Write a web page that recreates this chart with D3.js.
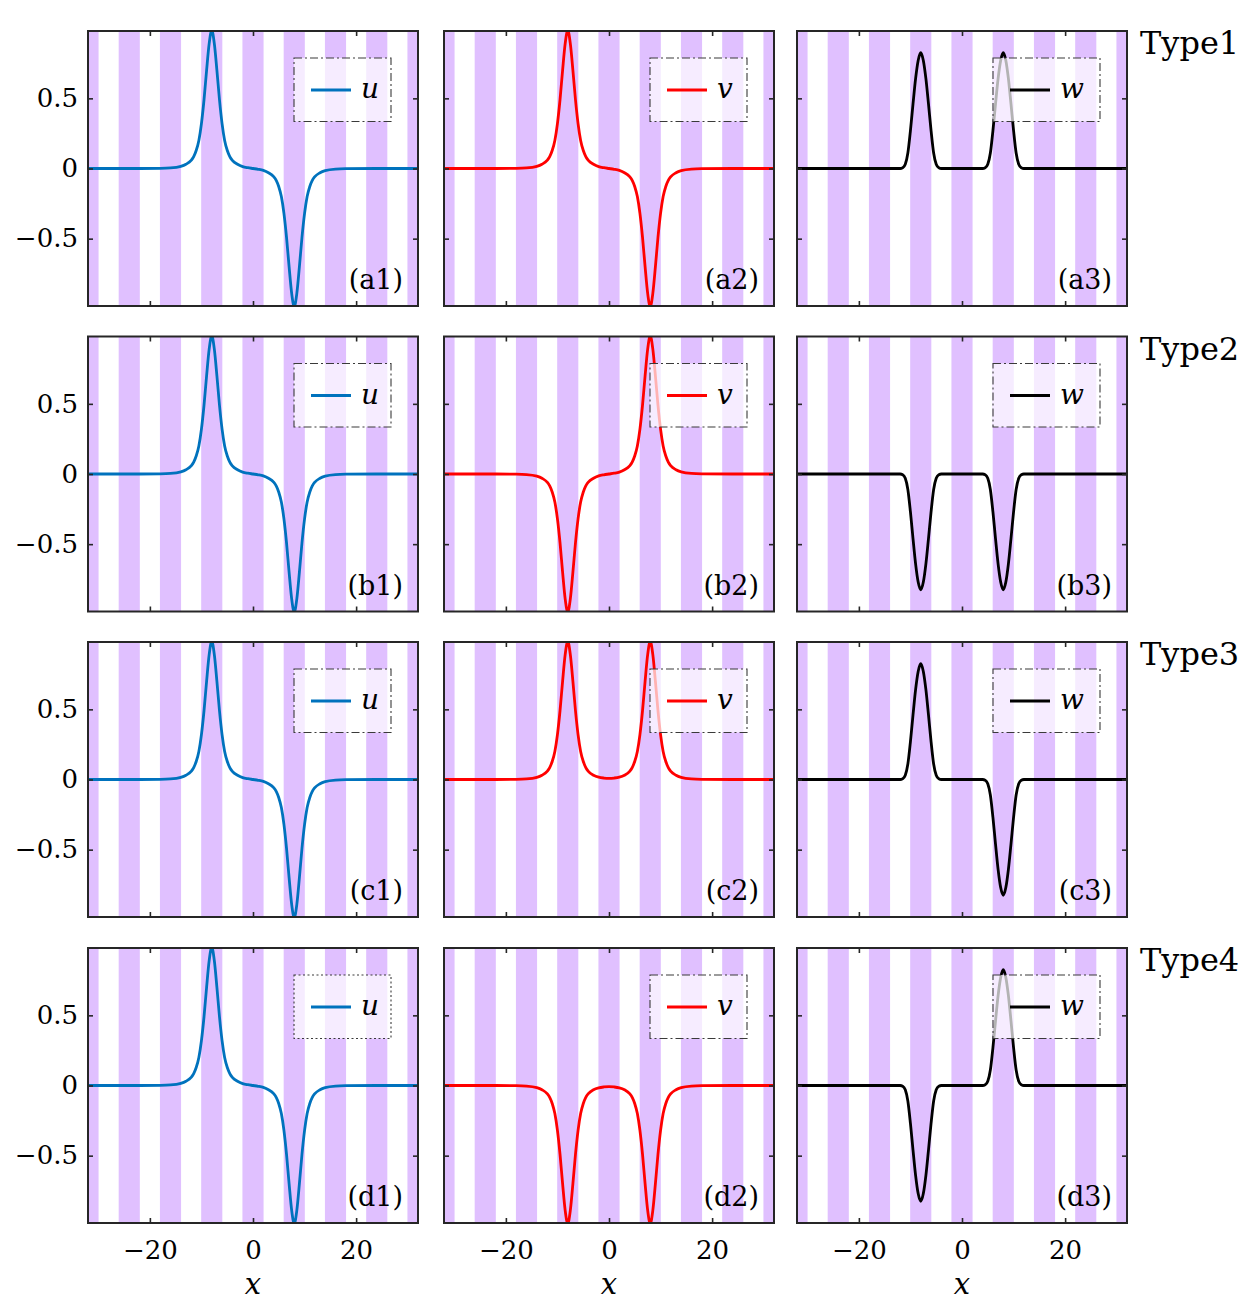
<!DOCTYPE html>
<meta charset="utf-8" />
<script src="https://d3js.org/d3.v7.min.js"></script>
<div id="my_dataviz"></div>
<script>
  // axis limits and ticks
  const xLimits = [-32, 32];
  const yLimits = [-0.98, 0.98];
  const xTicks = [-20, 0, 20];
  const yTicks = [-0.5, 0, 0.5];

  // lattice stripes (centres and width, in x units)
  const stripeCenters = [-32, -24, -16, -8, 0, 8, 16, 24, 32];
  const stripeWidth = 4.1;

  // sample positions shared by all curves
  const xs = [-32, -24, -18, -16, -14, -13, -12, -11.5, -11, -10.5, -10, -9.5, -9, -8.5, -8,
    -7.5, -7, -6.5, -6, -5.5, -5, -4.5, -4, -3, -2, -1, 0, 1, 2, 3, 4, 4.5, 5, 5.5, 6, 6.5,
    7, 7.5, 8, 8.5, 9, 9.5, 10, 10.5, 11, 11.5, 12, 13, 14, 16, 18, 24, 32];

  // u (and v of Type1): hump at -8, dip at +8
  const uPT = [0, 0, 0.0015, 0.004, 0.015, 0.03, 0.058, 0.085, 0.13, 0.2, 0.32, 0.49, 0.7, 0.89, 0.985,
    0.89, 0.7, 0.49, 0.32, 0.2, 0.13, 0.085, 0.058, 0.03, 0.0135, 0.0055, 0, -0.0055, -0.0135, -0.03,
    -0.058, -0.085, -0.13, -0.2, -0.32, -0.49, -0.7, -0.89, -0.985, -0.89, -0.7, -0.49, -0.32, -0.2,
    -0.13, -0.085, -0.058, -0.03, -0.015, -0.004, -0.0015, 0, 0];
  // v of Type2: dip at -8, hump at +8
  const vTP = [0, 0, -0.0015, -0.004, -0.015, -0.03, -0.058, -0.085, -0.13, -0.2, -0.32, -0.49, -0.7, -0.89, -0.985,
    -0.89, -0.7, -0.49, -0.32, -0.2, -0.13, -0.085, -0.058, -0.03, -0.0135, -0.0055, 0, 0.0055, 0.0135, 0.03,
    0.058, 0.085, 0.13, 0.2, 0.32, 0.49, 0.7, 0.89, 0.985, 0.89, 0.7, 0.49, 0.32, 0.2,
    0.13, 0.085, 0.058, 0.03, 0.015, 0.004, 0.0015, 0, 0];
  // v of Type3: two humps
  const vPP = [0, 0, 0.0015, 0.004, 0.015, 0.03, 0.058, 0.085, 0.13, 0.2, 0.32, 0.49, 0.7, 0.89, 0.985,
    0.89, 0.7, 0.49, 0.32, 0.2, 0.13, 0.085, 0.058, 0.03, 0.0165, 0.0105, 0.008, 0.0105, 0.0165, 0.03,
    0.058, 0.085, 0.13, 0.2, 0.32, 0.49, 0.7, 0.89, 0.985, 0.89, 0.7, 0.49, 0.32, 0.2,
    0.13, 0.085, 0.058, 0.03, 0.015, 0.004, 0.0015, 0, 0];
  // v of Type4: two dips
  const vTT = [0, 0, -0.0015, -0.004, -0.015, -0.03, -0.058, -0.085, -0.13, -0.2, -0.32, -0.49, -0.7, -0.89, -0.985,
    -0.89, -0.7, -0.49, -0.32, -0.2, -0.13, -0.085, -0.058, -0.03, -0.0165, -0.0105, -0.008, -0.0105, -0.0165, -0.03,
    -0.058, -0.085, -0.13, -0.2, -0.32, -0.49, -0.7, -0.89, -0.985, -0.89, -0.7, -0.49, -0.32, -0.2,
    -0.13, -0.085, -0.058, -0.03, -0.015, -0.004, -0.0015, 0, 0];

  // w curves (narrower, height ~0.825)
  const wPP = [0, 0, 0, 0, 0, 0, 0, 0.005, 0.03, 0.11, 0.27, 0.46, 0.64, 0.77, 0.825,
    0.77, 0.64, 0.46, 0.27, 0.11, 0.03, 0.005, 0, 0, 0, 0, 0, 0, 0, 0,
    0, 0.005, 0.03, 0.11, 0.27, 0.46, 0.64, 0.77, 0.825, 0.77, 0.64, 0.46, 0.27, 0.11,
    0.03, 0.005, 0, 0, 0, 0, 0, 0, 0];
  const wTT = [0, 0, 0, 0, 0, 0, 0, -0.005, -0.03, -0.11, -0.27, -0.46, -0.64, -0.77, -0.825,
    -0.77, -0.64, -0.46, -0.27, -0.11, -0.03, -0.005, 0, 0, 0, 0, 0, 0, 0, 0,
    0, -0.005, -0.03, -0.11, -0.27, -0.46, -0.64, -0.77, -0.825, -0.77, -0.64, -0.46, -0.27, -0.11,
    -0.03, -0.005, 0, 0, 0, 0, 0, 0, 0];
  const wPT = [0, 0, 0, 0, 0, 0, 0, 0.005, 0.03, 0.11, 0.27, 0.46, 0.64, 0.77, 0.825,
    0.77, 0.64, 0.46, 0.27, 0.11, 0.03, 0.005, 0, 0, 0, 0, 0, 0, 0, 0,
    0, -0.005, -0.03, -0.11, -0.27, -0.46, -0.64, -0.77, -0.825, -0.77, -0.64, -0.46, -0.27, -0.11,
    -0.03, -0.005, 0, 0, 0, 0, 0, 0, 0];
  const wTP = [0, 0, 0, 0, 0, 0, 0, -0.005, -0.03, -0.11, -0.27, -0.46, -0.64, -0.77, -0.825,
    -0.77, -0.64, -0.46, -0.27, -0.11, -0.03, -0.005, 0, 0, 0, 0, 0, 0, 0, 0,
    0, 0.005, 0.03, 0.11, 0.27, 0.46, 0.64, 0.77, 0.825, 0.77, 0.64, 0.46, 0.27, 0.11,
    0.03, 0.005, 0, 0, 0, 0, 0, 0, 0];

  const rowLetters = ["a", "b", "c", "d"];
  const typeLabels = ["Type1", "Type2", "Type3", "Type4"];
  const fieldNames = ["u", "v", "w"];
  const fieldColors = ["#0072BD", "#FF0000", "#000000"];
  // which curve sits in each panel [row][col]
  const panelCurves = [
    [uPT, uPT, wPP],
    [uPT, vTP, wTT],
    [uPT, vPP, wPT],
    [uPT, vTT, wTP],
  ];

  // layout
  const colLeft = [88, 444, 797];
  const rowTop = [31, 336.5, 642, 948];
  const panelW = 330, panelH = 275;

  const svg = d3
    .select("#my_dataviz")
    .append("svg")
    .attr("width", 1257)
    .attr("height", 1301);

  const serif = "DejaVu Serif";

  rowTop.forEach((top, r) => {
    colLeft.forEach((left, c) => {
      const x = d3.scaleLinear().domain(xLimits).range([0, panelW]);
      const y = d3.scaleLinear().domain(yLimits).range([panelH, 0]);

      const g = svg.append("g").attr("transform", `translate(${left}, ${top})`);

      const clipId = `clip-${r}-${c}`;
      g.append("clipPath")
        .attr("id", clipId)
        .append("rect")
        .attr("width", panelW)
        .attr("height", panelH);

      const plot = g.append("g").attr("clip-path", `url(#${clipId})`);

      // stripes
      plot
        .selectAll(".stripe")
        .data(stripeCenters)
        .join("rect")
        .attr("x", (d) => x(d - stripeWidth / 2))
        .attr("y", 0)
        .attr("width", (d) => x(d + stripeWidth / 2) - x(d - stripeWidth / 2))
        .attr("height", panelH)
        .style("fill", "#E0C0FF");

      // curve
      const vals = panelCurves[r][c];
      const line = d3
        .line()
        .x((d, i) => x(xs[i]))
        .y((d) => y(d))
        .curve(d3.curveMonotoneX);
      plot
        .append("path")
        .datum(vals)
        .attr("d", line)
        .style("fill", "none")
        .style("stroke", fieldColors[c])
        .style("stroke-width", 2.8)
        .style("stroke-linejoin", "round");

      // legend
      const bw = c === 2 ? 107 : 97, bh = 63.5;
      const bx = panelW - 27 - bw, by = 27;
      const leg = g.append("g").attr("transform", `translate(${bx}, ${by})`);
      leg
        .append("rect")
        .attr("width", bw)
        .attr("height", bh)
        .style("fill", "white")
        .style("fill-opacity", 0.7)
        .style("stroke", "#3a3a3a")
        .style("stroke-width", 1.1)
        .style("stroke-dasharray", r === 3 && c === 0 ? "2,2.5" : "8,3,2,3");
      leg
        .append("line")
        .attr("x1", 17)
        .attr("x2", 57)
        .attr("y1", 32)
        .attr("y2", 32)
        .style("stroke", fieldColors[c])
        .style("stroke-width", 2.8);
      leg
        .append("text")
        .attr("x", 67)
        .attr("y", 40)
        .style("font-family", serif)
        .style("font-style", "italic")
        .style("font-size", "28px")
        .text(fieldNames[c]);

      // axes (ticks inward on all four sides)
      const styleAxis = (sel) => {
        sel.select(".domain").remove();
        sel.selectAll("line").style("stroke", "#262626").style("stroke-width", 1.6);
        sel.selectAll("text")
          .style("font-family", serif)
          .style("font-size", "26px")
          .style("fill", "#000");
      };
      g.append("g")
        .call(d3.axisLeft(y).tickValues(yTicks).tickSize(-5).tickPadding(10)
          .tickFormat(c === 0 ? d3.format("") : ""))
        .call(styleAxis);
      g.append("g")
        .attr("transform", `translate(${panelW}, 0)`)
        .call(d3.axisRight(y).tickValues(yTicks).tickSize(-5).tickFormat(""))
        .call(styleAxis);
      g.append("g")
        .call(d3.axisTop(x).tickValues(xTicks).tickSize(-5).tickFormat(""))
        .call(styleAxis);
      const bottomAxis = g.append("g")
        .attr("transform", `translate(0, ${panelH})`)
        .call(d3.axisBottom(x).tickValues(xTicks).tickSize(-5).tickPadding(11)
          .tickFormat(r === 3 ? d3.format("") : ""))
        .call(styleAxis);
      bottomAxis.selectAll("text").attr("dy", "0.95em");

      // frame
      g.append("rect")
        .attr("width", panelW)
        .attr("height", panelH)
        .style("fill", "none")
        .style("stroke", "#262626")
        .style("stroke-width", 2);

      // panel label
      g.append("text")
        .attr("x", panelW - 15)
        .attr("y", panelH - 17)
        .attr("text-anchor", "end")
        .style("font-family", serif)
        .style("font-size", "27px")
        .text(`(${rowLetters[r]}${c + 1})`);

      if (r === 3) {
        g.append("text")
          .attr("x", panelW / 2)
          .attr("y", panelH + 71)
          .attr("text-anchor", "middle")
          .style("font-family", serif)
          .style("font-style", "italic")
          .style("font-size", "29px")
          .text("x");
      }
      if (c === 2) {
        g.append("text")
          .attr("x", panelW + 13)
          .attr("y", 23)
          .style("font-family", serif)
          .style("font-size", "32px")
          .text(typeLabels[r]);
      }
    });
  });
</script>
<style>
  body {
    margin: 0;
    background-color: white;
  }
</style>
